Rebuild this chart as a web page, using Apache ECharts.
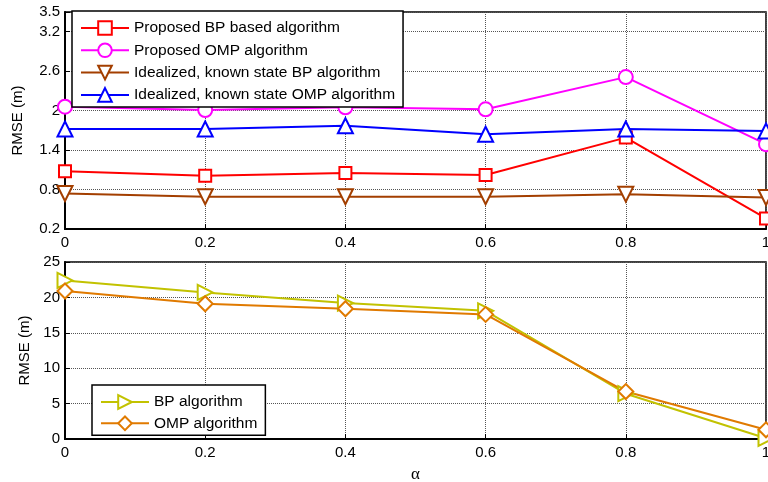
<!DOCTYPE html>
<html>
<head>
<meta charset="utf-8">
<script src="https://cdn.jsdelivr.net/npm/echarts@6/dist/echarts.min.js"></script>
<style>
  html, body { margin: 0; padding: 0; background: #fff; }
  #chart { width: 768px; height: 482px; }
</style>
</head>
<body>
<div id="chart"></div>
<script>
// alpha values shared by both panels
const alphas = [0, 0.2, 0.4, 0.6, 0.8, 1];

// upper panel: RMSE (m)
const topTicks = [0.2, 0.8, 1.4, 2, 2.6, 3.2, 3.5];
const proposedBP = [1.08, 1.01, 1.05, 1.02, 1.59, 0.36];
const proposedOMP = [2.06, 2.01, 2.05, 2.02, 2.51, 1.49];
const idealBP = [0.74, 0.69, 0.69, 0.69, 0.73, 0.68];
const idealOMP = [1.72, 1.72, 1.77, 1.64, 1.72, 1.69];

// lower panel: RMSE (m)
const bottomTicks = [0, 5, 10, 15, 20, 25];
const bpAlg = [22.4, 20.7, 19.2, 18.1, 6.4, 0.1];
const ompAlg = [20.9, 19.1, 18.4, 17.6, 6.7, 1.3];

const FONT = 'Liberation Sans, Arial, sans-serif';
const gridLine = { show: true, lineStyle: { type: [1, 1], color: '#555', width: 1 } };

function pairs(ys) { return alphas.map((a, i) => [a, ys[i]]); }

function lineSeries(name, ys, color, symbol, rotate, size, xi) {
  return {
    name, type: 'line', xAxisIndex: xi, yAxisIndex: xi,
    data: pairs(ys),
    symbol, symbolSize: size, symbolRotate: rotate,
    color,
    lineStyle: { color, width: 2 },
    itemStyle: { color: '#fff', borderColor: color, borderWidth: 2 },
    emphasis: { disabled: true },
    clip: false,
    z: 3
  };
}

function xAxis(gridIndex, name) {
  return {
    type: 'value', gridIndex, min: 0, max: 1, interval: 0.2,
    axisLine: { show: true, onZero: false, lineStyle: { color: '#000', width: 2 } },
    axisTick: { show: true, inside: true, length: 5, lineStyle: { color: '#000' } },
    axisLabel: { color: '#000', fontFamily: FONT, fontSize: 15, margin: 6,
      formatter: v => String(+v.toFixed(1)) },
    splitLine: gridLine,
    name: name || '', nameLocation: 'middle', nameGap: 27,
    nameTextStyle: { fontFamily: 'Liberation Serif, Times New Roman, serif', fontSize: 17, color: '#000' }
  };
}

function yAxis(gridIndex, min, max, ticks, gap) {
  return {
    type: 'value', gridIndex, min, max,
    axisLine: { show: true, lineStyle: { color: '#000', width: 2 } },
    axisTick: { show: true, inside: true, length: 5, customValues: ticks, lineStyle: { color: '#000' } },
    axisLabel: { color: '#000', fontFamily: FONT, fontSize: 15, margin: 5, customValues: ticks },
    splitLine: gridLine,
    name: 'RMSE (m)', nameLocation: 'middle', nameGap: gap, nameRotate: 90,
    nameTextStyle: { fontFamily: FONT, fontSize: 15, color: '#000' }
  };
}

const legendBase = {
  orient: 'vertical', backgroundColor: '#fff', borderColor: '#000', borderWidth: 1.5,
  borderRadius: 0, itemWidth: 48, itemHeight: 17, itemGap: 6.3, padding: [9, 8, 4, 8],
  textStyle: { fontFamily: FONT, fontSize: 15.5, color: '#000' },
  selectedMode: false
};

const option = {
  animation: false,
  backgroundColor: '#fff',
  grid: [
    { left: 65, top: 12, width: 701, height: 217, show: true, borderColor: '#000', borderWidth: 1.5,
      backgroundColor: '#fff', outerBoundsMode: 'none' },
    { left: 65, top: 262, width: 701, height: 177, show: true, borderColor: '#000', borderWidth: 1.5,
      backgroundColor: '#fff', outerBoundsMode: 'none' }
  ],
  xAxis: [xAxis(0), xAxis(1, 'α')],
  yAxis: [yAxis(0, 0.2, 3.5, topTicks, 40), yAxis(1, 0, 25, bottomTicks, 29)],
  legend: [
    Object.assign({}, legendBase, {
      left: 72, top: 11,
      data: ['Proposed BP based algorithm', 'Proposed OMP algorithm',
             'Idealized, known state BP algorithm', 'Idealized, known state OMP algorithm']
    }),
    Object.assign({}, legendBase, {
      left: 92, top: 385, itemGap: 5.3,
      data: ['BP algorithm', 'OMP algorithm']
    })
  ],
  series: [
    lineSeries('Proposed BP based algorithm', proposedBP, '#ff0000', 'rect', 0, 12, 0),
    lineSeries('Proposed OMP algorithm', proposedOMP, '#ff00ff', 'circle', 0, 14, 0),
    lineSeries('Idealized, known state BP algorithm', idealBP, '#a33f00', 'triangle', 180, 15, 0),
    lineSeries('Idealized, known state OMP algorithm', idealOMP, '#0000ff', 'triangle', 0, 15, 0),
    lineSeries('BP algorithm', bpAlg, '#c2c200', 'triangle', -90, 15, 1),
    lineSeries('OMP algorithm', ompAlg, '#e07a00', 'diamond', 0, 15, 1)
  ]
};

echarts.init(document.getElementById('chart'), null, { renderer: 'canvas' }).setOption(option);
</script>
</body>
</html>
